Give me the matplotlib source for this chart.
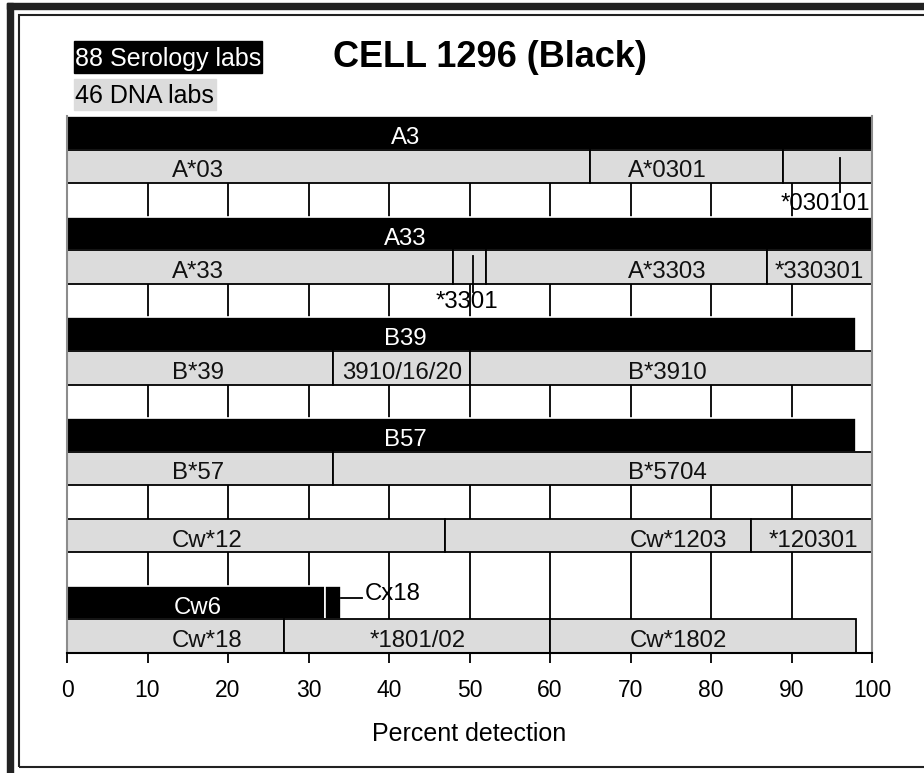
import matplotlib
matplotlib.use('Agg')
import matplotlib.pyplot as plt
from matplotlib.patches import Rectangle

plt.rcParams['font.family'] = ['Liberation Sans', 'DejaVu Sans']

"""
Data read off the chart (percent detection)
"""

# serology rows (black bars)
ser_rows = [0, 3, 6, 9, 14]
ser_widths = [[100], [100], [98], [98], [32, 2]]
ser_labels = [['A3'], ['A33'], ['B39'], ['B57'], ['Cw6', 'Cx18']]

# DNA rows (grey bars)
dna_rows = [1, 4, 7, 10, 12, 15]
dna_widths = [[65, 24, 11], [48, 4, 35, 13], [33, 17, 50], [33, 67],
              [47, 38, 15], [27, 33, 38]]
dna_labels = [['A*03', 'A*0301', '*030101'],
              ['A*33', '*3301', 'A*3303', '*330301'],
              ['B*39', '3910/16/20', 'B*3910'],
              ['B*57', 'B*5704'],
              ['Cw*12', 'Cw*1203', '*120301'],
              ['Cw*18', '*1801/02', 'Cw*1802']]

x_ticks = list(range(0, 101, 10))

# where the labels sit (None = label drawn as a callout)
ser_label_x = [[42], [42], [42], [42], [16.2, None]]
dna_label_x = [[16.3, 74.6, None], [16.3, None, 74.6, 93.5], [16.3, 41.6, 74.6],
               [16.3, 74.6], [17.4, 75.9, 92.7], [17.4, 43.6, 75.9]]

# callouts: leader x, leader y, text x, text baseline y, alignment
callouts = {
    '*030101': ([96, 96], [1.25, 2.27], 94.2, 2.80, 'center'),
    '*3301': ([50.4, 50.4], [4.18, 5.24], 49.7, 5.72, 'center'),
    'Cx18': ([34, 36.7], [14.37, 14.37], 37.0, 14.42, 'left'),
}

W, H = 924, 773
GREY = '#dcdcdc'
FS = 17.3


def fx(px):
    return px / W


def fy(py):
    return 1 - py / H


fig = plt.figure(figsize=(W / 100, H / 100), dpi=100)
ax = fig.add_axes([fx(67), fy(653), fx(872) - fx(67), fy(116) - fy(653)])


def draw_row(row, widths, labels, label_x, color, edge, lw, txtcolor):
    left = 0
    for w, lab, lx in zip(widths, labels, label_x):
        ax.barh(row, w, left=left, height=1, align='edge', color=color,
                edgecolor=edge, linewidth=lw, zorder=2)
        left += w
        if lx is None:
            xs, ys, tx, ty, ha = callouts[lab]
            ax.plot(xs, ys, color='black', lw=1.3, zorder=4)
            ax.text(tx, ty, lab, ha=ha, va='baseline', fontsize=FS,
                    color='black', zorder=5)
        else:
            ax.text(lx, row + 0.83, lab, ha='center', va='baseline',
                    fontsize=FS, color=txtcolor, zorder=5)


for r, w, l, lx in zip(ser_rows, ser_widths, ser_labels, ser_label_x):
    draw_row(r, w, l, lx, 'black', 'white', 1.2, 'white')
for r, w, l, lx in zip(dna_rows, dna_widths, dna_labels, dna_label_x):
    draw_row(r, w, l, lx, GREY, 'black', 1.3, '#111111')

ax.set_xlim(0, 100)
ax.set_ylim(16, 0)
ax.set_yticks([])
ax.set_xticks(x_ticks)
ax.set_xticklabels([str(t) for t in x_ticks], fontsize=16.5)
ax.tick_params(axis='x', direction='out', length=7, width=1.3, pad=12,
               color='black')
ax.grid(axis='x', color='black', lw=1.3)
ax.set_axisbelow(True)
ax.spines['top'].set_visible(False)
for s in ['left', 'right']:
    ax.spines[s].set_color('#8c8c8c')
    ax.spines[s].set_linewidth(1.5)
ax.spines['bottom'].set_color('black')
ax.spines['bottom'].set_linewidth(1.5)
ax.set_xlabel('Percent detection', fontsize=18, labelpad=14)

# legend boxes
fig.patches.append(Rectangle((fx(74), fy(73)), fx(262) - fx(74), fy(41) - fy(73),
                             transform=fig.transFigure, color='black'))
fig.text(fx(75), fy(66), '88 Serology labs', color='white', fontsize=18,
         va='baseline', ha='left')
fig.patches.append(Rectangle((fx(74), fy(110)), fx(216) - fx(74), fy(79) - fy(110),
                             transform=fig.transFigure, color=GREY))
fig.text(fx(75), fy(103), '46 DNA labs', color='black', fontsize=18,
         va='baseline', ha='left')

fig.text(fx(490), fy(67), 'CELL 1296 (Black)', fontsize=26, fontweight='bold',
         ha='center', va='baseline')

# outer frame
fig.patches.append(Rectangle((fx(7), fy(9)), 1, fy(3) - fy(9),
                             transform=fig.transFigure, color='#222222'))
fig.patches.append(Rectangle((fx(7), 0), fx(13) - fx(7), fy(3),
                             transform=fig.transFigure, color='#222222'))
fig.patches.append(Rectangle((fx(19), fy(767)), 1, fy(15) - fy(767),
                             transform=fig.transFigure, fill=False,
                             edgecolor='#222222', lw=1.5))

fig.savefig('out.png', dpi=100)
